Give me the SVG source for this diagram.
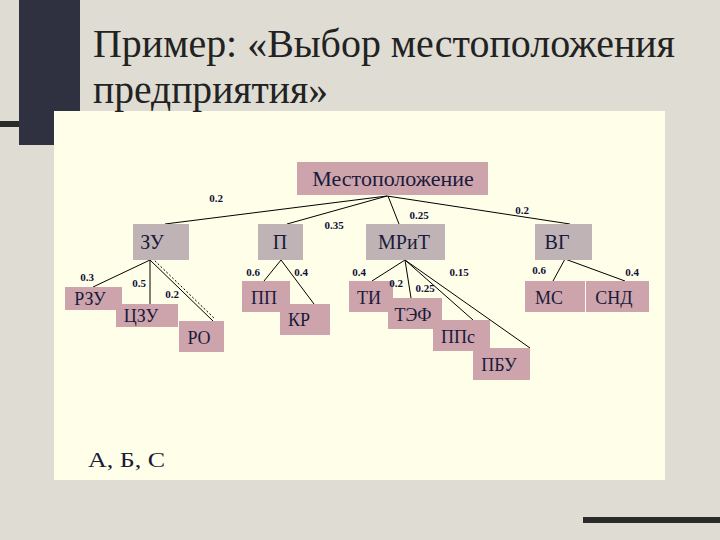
<svg xmlns="http://www.w3.org/2000/svg" width="720" height="540" viewBox="0 0 720 540">
<style>
.t{font-family:"Liberation Serif","Times New Roman","Tinos","DejaVu Serif",serif;fill:#1a1a3a;text-anchor:middle}
.n{font-size:20px}
.w{font-family:"Liberation Serif","Times New Roman","Tinos","DejaVu Serif",serif;font-weight:bold;font-size:11px;fill:#10103a;text-anchor:middle}
.h{font-family:"Liberation Serif","Times New Roman","Tinos","DejaVu Serif",serif;font-size:40px;fill:#222}
.p{fill:#cda4ac}
.g{fill:#bfb3b6}
.c line{stroke:#000;stroke-width:1}
</style>
<rect width="720" height="540" fill="#dedcd3"/>
<rect x="19" y="0" width="61" height="145" fill="#2f3140"/>
<rect x="0" y="121" width="19" height="6" fill="#2a2a2a"/>
<rect x="583" y="517" width="137" height="6" fill="#2a2a2a"/>
<rect x="54" y="111" width="611" height="369" fill="#fffee8"/>
<text class="h" x="93" y="57" textLength="582" lengthAdjust="spacingAndGlyphs">Пример: «Выбор местоположения</text>
<text class="h" x="93" y="103" textLength="235" lengthAdjust="spacingAndGlyphs">предприятия»</text>
<g class="c">
<line x1="387" y1="196" x2="165" y2="224"/>
<line x1="387" y1="196" x2="287" y2="224"/>
<line x1="388" y1="196" x2="399" y2="224"/>
<line x1="387" y1="196" x2="570" y2="224"/>
<line x1="150" y1="260" x2="93" y2="287"/>
<line x1="150" y1="260" x2="150" y2="304"/>
<line x1="150" y1="260" x2="213" y2="321"/>
<line x1="152" y1="258" x2="215" y2="319" stroke="#999" stroke-dasharray="2 2"/>
<line x1="281" y1="260" x2="264" y2="281"/>
<line x1="281" y1="260" x2="314" y2="304"/>
<line x1="405" y1="260" x2="372" y2="281"/>
<line x1="405" y1="260" x2="411" y2="298"/>
<line x1="405" y1="260" x2="473" y2="320"/>
<line x1="405" y1="260" x2="530" y2="348"/>
<line x1="565" y1="259" x2="553" y2="281"/>
<line x1="565" y1="259" x2="625" y2="281"/>
</g>
<g id="root"><rect class="p" x="297" y="162" width="191" height="33"/><text class="t" x="393" y="186" font-size="22">Местоположение</text></g>
<g id="zu"><rect class="g" x="133" y="224" width="56" height="36"/><text class="t n" x="152" y="249">ЗУ</text></g>
<g id="p"><rect class="g" x="258" y="224" width="45" height="36"/><text class="t n" x="280" y="249">П</text></g>
<g id="mrit"><rect class="g" x="366" y="224" width="79" height="36"/><text class="t n" x="404" y="249">МРиТ</text></g>
<g id="vg"><rect class="g" x="535" y="224" width="57" height="36"/><text class="t n" x="557" y="249">ВГ</text></g>
<g id="rzu"><rect class="p" x="65" y="287" width="57" height="23"/><text class="t" x="90" y="305" font-size="18">РЗУ</text></g>
<g id="czu"><rect class="p" x="116" y="304" width="62" height="23"/><text class="t" x="141" y="322" font-size="18">ЦЗУ</text></g>
<g id="ro"><rect class="p" x="179" y="321" width="45" height="31"/><text class="t" x="199" y="344" font-size="18">РО</text></g>
<g id="pp"><rect class="p" x="242" y="281" width="48" height="31"/><text class="t" x="264" y="304" font-size="18">ПП</text></g>
<g id="kr"><rect class="p" x="280" y="304" width="50" height="31"/><text class="t" x="299" y="326" font-size="18">КР</text></g>
<g id="ti"><rect class="p" x="349" y="281" width="44" height="31"/><text class="t" x="369" y="304" font-size="18">ТИ</text></g>
<g id="tef"><rect class="p" x="388" y="298" width="54" height="31"/><text class="t" x="413" y="321" font-size="18">ТЭФ</text></g>
<g id="pps"><rect class="p" x="433" y="320" width="57" height="31"/><text class="t" x="458" y="343" font-size="18">ППс</text></g>
<g id="pbu"><rect class="p" x="473" y="348" width="57" height="32"/><text class="t" x="499" y="371" font-size="18">ПБУ</text></g>
<g id="ms"><rect class="p" x="525" y="281" width="60" height="31"/><text class="t" x="549" y="304" font-size="18">МС</text></g>
<g id="snd"><rect class="p" x="586" y="281" width="63" height="31"/><text class="t" x="614" y="304" font-size="18">СНД</text></g>
<g id="weights">
<text class="w" x="216" y="202">0.2</text>
<text class="w" x="334" y="229">0.35</text>
<text class="w" x="419" y="219">0.25</text>
<text class="w" x="522" y="214">0.2</text>
<text class="w" x="87" y="281">0.3</text>
<text class="w" x="139" y="287">0.5</text>
<text class="w" x="172" y="298">0.2</text>
<text class="w" x="253" y="276">0.6</text>
<text class="w" x="301" y="276">0.4</text>
<text class="w" x="359" y="276">0.4</text>
<text class="w" x="396" y="287">0.2</text>
<text class="w" x="425" y="292">0.25</text>
<text class="w" x="459" y="276">0.15</text>
<text class="w" x="539" y="274">0.6</text>
<text class="w" x="632" y="276">0.4</text>
</g>
<text class="t" x="88" y="467" font-size="22" style="text-anchor:start" textLength="77" lengthAdjust="spacingAndGlyphs">А, Б, С</text>
</svg>
